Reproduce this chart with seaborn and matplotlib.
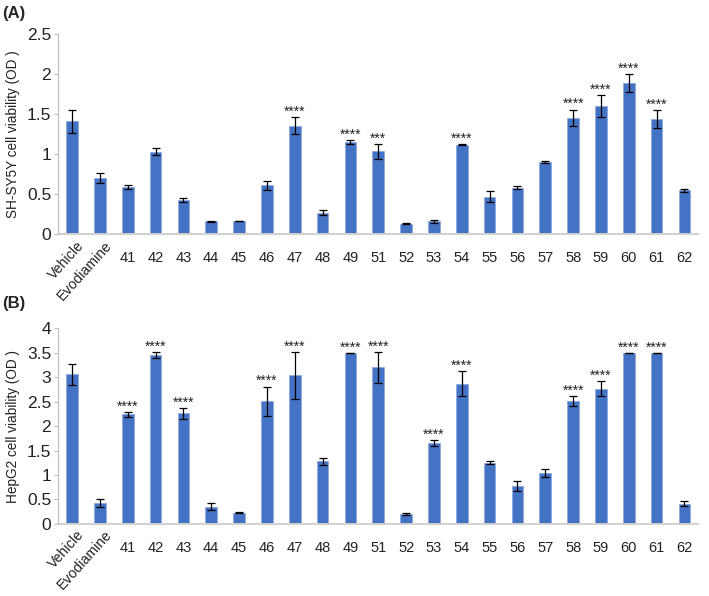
import matplotlib
matplotlib.use("Agg")
import matplotlib.pyplot as plt
import matplotlib.transforms as mtransforms
import seaborn as sns
import pandas as pd
from matplotlib.ticker import FuncFormatter

categories = ["Vehicle", "Evodiamine", "41", "42", "43", "44", "45", "46", "47", "48", "49",
              "51", "52", "53", "54", "55", "56", "57", "58", "59", "60", "61", "62"]

# panel A: SH-SY5Y
sh_mean = [1.41, 0.70, 0.59, 1.03, 0.43, 0.16, 0.165, 0.61, 1.355, 0.27, 1.155,
           1.035, 0.13, 0.16, 1.12, 0.47, 0.58, 0.90, 1.455, 1.60, 1.89, 1.44, 0.55]
sh_err = [0.145, 0.065, 0.025, 0.045, 0.027, 0.01, 0.005, 0.058, 0.105, 0.035, 0.025,
          0.094, 0.005, 0.022, 0.005, 0.069, 0.02, 0.014, 0.10, 0.14, 0.11, 0.108, 0.017]
sh_stars = ["", "", "", "", "", "", "", "", "****", "", "****",
            "***", "", "", "****", "", "", "", "****", "****", "****", "****", ""]

# panel B: HepG2
hep_mean = [3.06, 0.435, 2.24, 3.45, 2.26, 0.355, 0.225, 2.51, 3.04, 1.28, 3.5,
            3.20, 0.21, 1.66, 2.87, 1.25, 0.77, 1.04, 2.51, 2.77, 3.5, 3.5, 0.415]
hep_err = [0.22, 0.08, 0.055, 0.06, 0.115, 0.08, 0.01, 0.30, 0.48, 0.075, 0.0,
           0.32, 0.02, 0.06, 0.25, 0.03, 0.10, 0.075, 0.105, 0.155, 0.0, 0.0, 0.058]
hep_stars = ["", "", "****", "****", "****", "", "", "****", "****", "", "****",
             "****", "", "****", "****", "", "", "", "****", "****", "****", "****", ""]

sns.set_theme(style="white")
plt.rcParams["font.family"] = ["Liberation Sans", "DejaVu Sans"]

bar_color = "#4472C4"
fig = plt.figure(figsize=(7.09, 5.96), dpi=100)
ax_a = fig.add_axes([0.082, 0.607, 0.903, 0.336])
ax_b = fig.add_axes([0.082, 0.121, 0.903, 0.328])


def draw_panel(ax, means, errs, stars, ymax, ystep, ylabel):
    df = pd.DataFrame({"group": categories, "value": means})
    sns.barplot(data=df, x="group", y="value", color=bar_color, saturation=1,
                width=0.42, edgecolor="#8FAADC", linewidth=0.6, errorbar=None, ax=ax)
    xs = [p.get_x() + p.get_width() / 2 for p in ax.patches]
    ax.errorbar(xs, means, yerr=errs, fmt="none", ecolor="black",
                elinewidth=0.9, capsize=3, capthick=0.9)
    for x, m, e, s in zip(xs, means, errs, stars):
        if s:
            ax.annotate(s, (x, m + e), xytext=(0, 1), textcoords="offset points",
                        ha="center", va="baseline", fontsize=10, color="#222222")
    ax.set_ylim(0, ymax)
    ax.set_xlim(-0.5, len(categories) - 0.5)
    ax.set_yticks([i * ystep for i in range(int(round(ymax / ystep)) + 1)])
    ax.yaxis.set_major_formatter(FuncFormatter(lambda v, p: f"{v:g}"))
    ax.set_xlabel("")
    ax.set_ylabel(ylabel, fontsize=9.8, color="#222222", labelpad=5)
    for side in ["top", "right"]:
        ax.spines[side].set_visible(False)
    ax.spines["left"].set_color("#BFBFBF")
    ax.spines["left"].set_linewidth(0.8)
    ax.spines["bottom"].set_color("#D0D0D0")
    ax.spines["bottom"].set_linewidth(1.4)
    ax.tick_params(axis="y", left=True, length=3, width=0.8, color="#BFBFBF",
                   labelsize=12.5, labelcolor="#222222", pad=2)
    ax.tick_params(axis="x", bottom=False, labelsize=10.5, labelcolor="#222222", pad=6)
    ax.set_xticks(range(len(categories)))
    # the two long names are written slanted, the numbers stay flat
    ax.set_xticklabels(["" if i < 2 else c for i, c in enumerate(categories)])
    shift = mtransforms.ScaledTranslation(0.04, -0.04, fig.dpi_scale_trans)
    trans = ax.get_xaxis_transform() + shift
    for i, c in enumerate(categories[:2]):
        ax.text(i, 0, c, transform=trans, rotation=48, rotation_mode="anchor",
                ha="right", va="top", fontsize=10.2, color="#222222")


draw_panel(ax_a, sh_mean, sh_err, sh_stars, 2.5, 0.5, "SH-SY5Y cell viability (OD )")
draw_panel(ax_b, hep_mean, hep_err, hep_stars, 4, 0.5, "HepG2 cell viability (OD )")

fig.text(0.003, 0.978, "(A)", fontsize=12, fontweight="bold", va="center", ha="left")
fig.text(0.003, 0.49, "(B)", fontsize=12, fontweight="bold", va="center", ha="left")

fig.savefig("out.png", dpi=100, facecolor="white")
plt.close(fig)
